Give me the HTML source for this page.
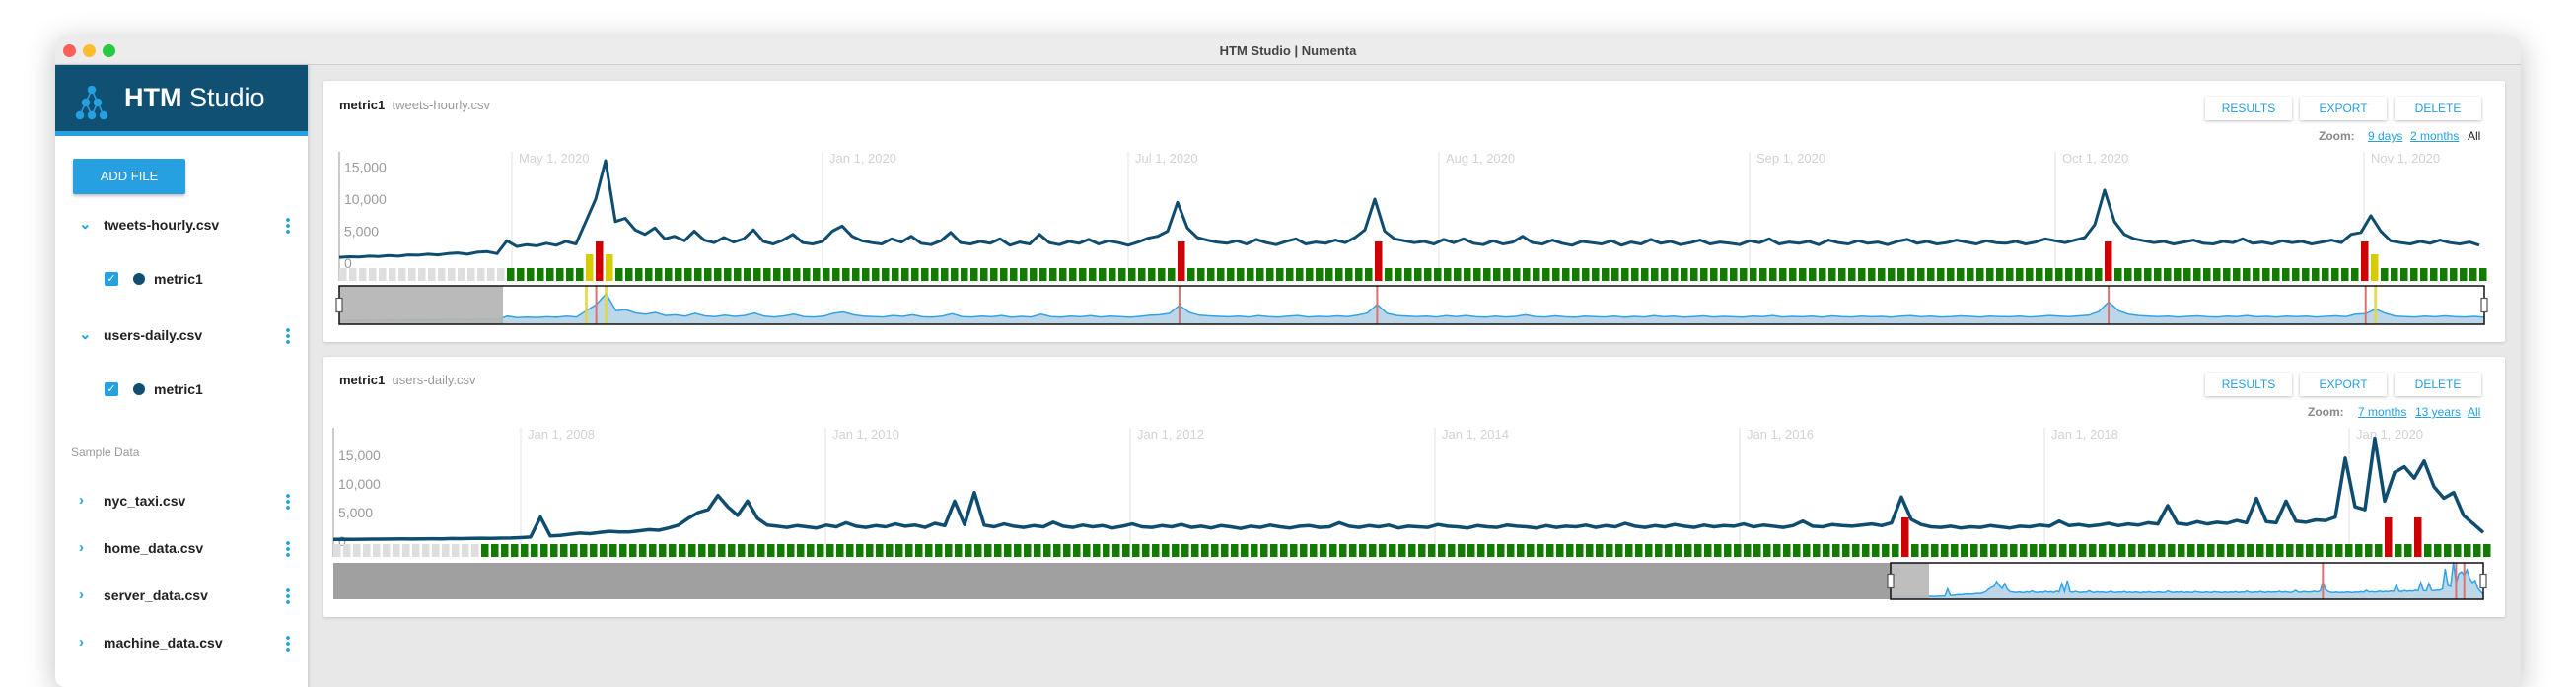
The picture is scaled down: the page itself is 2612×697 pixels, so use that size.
<!DOCTYPE html>
<html><head><meta charset="utf-8"><title>HTM Studio | Numenta</title>
<style>
*{box-sizing:border-box;margin:0;padding:0}
body{width:2612px;height:681px;overflow:hidden;background:#fff;font-family:"Liberation Sans",sans-serif;position:relative}
.abs{position:absolute}
#win{left:56px;top:37px;width:2500px;height:660px;border-radius:10px;background:#e8e8e8;box-shadow:0 6px 30px rgba(0,0,0,.25);overflow:hidden}
#titlebar{left:0;top:0;width:2500px;height:29px;background:#ececec;border-bottom:1px solid #cfcfcf;text-align:center;line-height:29px;font-size:13px;font-weight:bold;color:#444}
.dot{top:8px;width:13px;height:13px;border-radius:50%}
#sidebar{left:0;top:29px;width:256px;height:640px;background:#fff;box-shadow:1px 0 3px rgba(0,0,0,.15)}
#sbhead{left:0;top:0;width:256px;height:72px;background:#0f5073;border-bottom:5px solid #26a0e0}
.sbtext{font-size:14px;color:#222;font-weight:bold}
.kebab{width:4px;height:18px;background:radial-gradient(circle,#26a0e0 1.8px,transparent 2px) 0 0/4px 6px repeat-y}
.chev{color:#26a0e0;font-size:15px;font-weight:bold}
.panel{left:328px;width:2212px;background:#fff;box-shadow:0 1px 3px rgba(0,0,0,.15);border-radius:2px}
.btn{width:88px;height:24px;background:#fff;box-shadow:0 1px 3px rgba(0,0,0,.25);color:#26a0e0;font-size:12px;text-align:center;line-height:24px;border-radius:2px}
.lnk{color:#26a0e0;text-decoration:underline;font-size:12px}
.zl{font-size:12px;color:#888;font-weight:bold}
</style></head><body>
<div id="win" class="abs">
 <div id="titlebar" class="abs">HTM Studio | Numenta</div>
 <div class="abs dot" style="left:8px;background:#fe5f57"></div>
 <div class="abs dot" style="left:28px;background:#febc2e"></div>
 <div class="abs dot" style="left:48px;background:#28c840"></div>
 <div id="sidebar" class="abs">
  <div id="sbhead" class="abs">
   <svg class="abs" style="left:18px;top:21px" width="40" height="36">
    <g stroke="#26a0e0" stroke-width="1.5" fill="#26a0e0"><line x1="19" y1="4" x2="13" y2="17"/><line x1="19" y1="4" x2="25" y2="17"/><line x1="13" y1="17" x2="7" y2="30"/><line x1="13" y1="17" x2="19" y2="30"/><line x1="25" y1="17" x2="19" y2="30"/><line x1="25" y1="17" x2="31" y2="30"/>
    <circle cx="19" cy="4" r="3.5"/><circle cx="13" cy="17" r="3.5"/><circle cx="25" cy="17" r="3.5"/><circle cx="7" cy="30" r="3.5"/><circle cx="19" cy="30" r="3.5"/><circle cx="31" cy="30" r="3.5"/></g></svg>
   <div class="abs" style="left:70px;top:18px;font-size:27px;color:#fff;white-space:nowrap"><b>HTM</b> Studio</div>
  </div>
  <div class="abs" style="left:18px;top:95px;width:114px;height:36px;background:#26a0e0;color:#fff;font-size:13px;text-align:center;line-height:36px;box-shadow:0 2px 3px rgba(0,0,0,.25);border-radius:2px">ADD FILE</div>
  <div class="abs chev" style="left:24px;top:152px">&#8964;</div>
  <div class="abs sbtext" style="left:49px;top:154px">tweets-hourly.csv</div>
  <div class="abs kebab" style="left:234px;top:154px"></div>
  <div class="abs" style="left:50px;top:210px;width:14px;height:14px;background:#26a0e0;border-radius:2px;color:#fff;font-size:11px;text-align:center;line-height:14px">&#10003;</div>
  <div class="abs" style="left:79px;top:211px;width:12px;height:12px;border-radius:50%;background:#0f5073"></div>
  <div class="abs sbtext" style="left:100px;top:209px">metric1</div>
  <div class="abs chev" style="left:24px;top:264px">&#8964;</div>
  <div class="abs sbtext" style="left:49px;top:266px">users-daily.csv</div>
  <div class="abs kebab" style="left:234px;top:266px"></div>
  <div class="abs" style="left:50px;top:322px;width:14px;height:14px;background:#26a0e0;border-radius:2px;color:#fff;font-size:11px;text-align:center;line-height:14px">&#10003;</div>
  <div class="abs" style="left:79px;top:323px;width:12px;height:12px;border-radius:50%;background:#0f5073"></div>
  <div class="abs sbtext" style="left:100px;top:321px">metric1</div>
  <div class="abs" style="left:16px;top:386px;font-size:12px;color:#999">Sample Data</div>
  <div class="abs chev" style="left:24px;top:433px">&#8250;</div>
  <div class="abs sbtext" style="left:49px;top:434px">nyc_taxi.csv</div>
  <div class="abs kebab" style="left:234px;top:434px"></div>
  <div class="abs chev" style="left:24px;top:481px">&#8250;</div>
  <div class="abs sbtext" style="left:49px;top:482px">home_data.csv</div>
  <div class="abs kebab" style="left:234px;top:482px"></div>
  <div class="abs chev" style="left:24px;top:529px">&#8250;</div>
  <div class="abs sbtext" style="left:49px;top:530px">server_data.csv</div>
  <div class="abs kebab" style="left:234px;top:530px"></div>
  <div class="abs chev" style="left:24px;top:577px">&#8250;</div>
  <div class="abs sbtext" style="left:49px;top:578px">machine_data.csv</div>
  <div class="abs kebab" style="left:234px;top:578px"></div>
 </div>
</div>

<div class="abs panel" style="top:82px;height:265px"></div>
<div class="abs panel" style="top:362px;height:264px"></div>

<div class="abs" style="left:344px;top:99px;font-size:13px;white-space:nowrap"><b style="color:#222">metric1</b>&nbsp;&nbsp;<span style="color:#999">tweets-hourly.csv</span></div>
<div class="abs btn" style="left:2236px;top:98px">RESULTS</div>
<div class="abs btn" style="left:2332px;top:98px">EXPORT</div>
<div class="abs btn" style="left:2428px;top:98px">DELETE</div>
<div class="abs zl" style="left:2351px;top:131px">Zoom:</div>
<div class="abs lnk" style="left:2401px;top:131px">9 days</div>
<div class="abs lnk" style="left:2444px;top:131px">2 months</div>
<div class="abs" style="left:2502px;top:131px;font-size:12px;color:#222">All</div>

<div class="abs" style="left:344px;top:378px;font-size:13px;white-space:nowrap"><b style="color:#222">metric1</b>&nbsp;&nbsp;<span style="color:#999">users-daily.csv</span></div>
<div class="abs btn" style="left:2236px;top:378px">RESULTS</div>
<div class="abs btn" style="left:2332px;top:378px">EXPORT</div>
<div class="abs btn" style="left:2428px;top:378px">DELETE</div>
<div class="abs zl" style="left:2340px;top:411px">Zoom:</div>
<div class="abs lnk" style="left:2391px;top:411px">7 months</div>
<div class="abs lnk" style="left:2449px;top:411px">13 years</div>
<div class="abs lnk" style="left:2502px;top:411px">All</div>

<svg id="charts" class="abs" style="left:0;top:0" width="2612" height="681"></svg>

<script>
// ---- Chart 1: tweets-hourly ----
const tweetsValues = [900,1000,950,1100,1050,1200,1100,1300,1250,1400,
1300,1500,1600,1400,1700,1800,1500,3500,2600,2900,
2700,3100,2800,3400,3000,6500,10000,16000,6500,7000,
5200,4500,5500,3800,4200,3500,5000,3600,3200,4000,
3300,3800,5200,3400,3000,3600,4500,3200,3000,3400,
5000,5800,4200,3500,3200,3000,3800,3300,4200,3100,
2900,3500,4800,3200,3000,3400,3100,3800,2800,3300,
3000,4500,3200,2900,3400,3100,3700,3000,3500,3200,
2800,3300,3900,4200,5000,9500,5500,4000,3600,3300,
3100,3500,3000,3700,3200,2900,3400,3800,3000,3300,
3100,3600,3200,4000,5200,10000,5000,3800,3500,3200,
3400,3000,3700,3200,3800,3100,2900,3500,3000,3300,
4200,3200,3000,3600,3100,2800,3400,3200,3000,3500,
2800,3300,3000,3700,3100,3400,2900,3200,3600,3000,
3300,3100,2900,3500,3200,3800,3000,3300,3100,3400,
2900,3600,3200,3000,3500,3100,3300,2900,3400,3700,
3100,3400,3000,3200,3600,3300,3000,3500,3200,3100,
3400,3000,3300,3800,3500,3200,3600,4000,6000,11400,
6500,4500,3800,3500,3200,3400,3000,3300,3600,3100,
3000,3400,3200,3800,3100,3300,3000,3500,3200,3400,
3000,3300,3600,3200,4500,4800,7400,5000,3500,3200,
3000,3400,3100,3600,3200,3000,3300,2800];
const tweetsYTicks = [0,5000,10000,15000];
const tweetsYTickLabels = ["0","5,000","10,000","15,000"];
const tweetsXLabels = ["May 1, 2020","Jan 1, 2020","Jul 1, 2020","Aug 1, 2020","Sep 1, 2020","Oct 1, 2020","Nov 1, 2020"];
const tweetsXLabelIdx = [17.5,49,80,111.5,143,174,205.3];
const tweetsLearning = 17;
const tweetsRed = [26,85,105,179,205];
const tweetsYellow = [25,27,206];

// ---- Chart 2: users-daily ----
const usersValues = [300,320,310,330,350,340,360,380,370,400,
420,400,450,430,480,500,460,520,540,600,
700,4200,900,1000,1200,1400,1300,1500,1700,1600,
1600,1800,2000,1900,2300,
2800,4000,5000,5500,8000,6000,4500,7000,4000,2800,
2600,2400,2700,2500,2300,2800,2500,3200,2600,2400,
2700,2500,3000,2600,2800,2400,3100,2700,7000,2900,
8500,2800,2500,3000,2600,2400,2700,2500,3300,2600,
2400,2800,2500,2700,2300,2600,3000,2500,2400,2700,
2500,2900,2400,2600,2300,2700,2500,2200,2600,2400,
2800,2500,2300,2600,2700,2400,2500,3200,2600,2400,
2700,2500,2800,2300,2600,2500,2400,2900,2600,2500,
2300,2700,2500,2400,2800,2600,2500,2300,2700,2400,
2600,2500,2800,2400,2700,2500,3100,2600,2400,2700,
2500,2900,2600,2400,2800,2500,2700,2600,3000,2500,
2800,2600,2400,2700,3500,2600,2500,2900,2700,2600,
2800,3000,2700,3200,7700,3800,2900,2500,2400,2600,
2300,2500,2400,2700,2500,2300,2600,2500,2800,2600,
3500,2700,2900,2600,2800,3100,2700,3000,2800,3200,
3000,6200,3100,2900,3400,3000,3300,3100,3600,3200,
7500,3400,3200,7000,3500,3300,3700,3600,4200,
14500,6000,5500,18000,7000,12000,13000,11000,14000,9500,7500,8500,4500,3000,1500];
const usersYTicks = [0,5000,10000,15000];
const usersYTickLabels = ["0","5,000","10,000","15,000"];
const usersXLabels = ["Jan 1, 2008","Jan 1, 2010","Jan 1, 2012","Jan 1, 2014","Jan 1, 2016","Jan 1, 2018","Jan 1, 2020"];
const usersXLabelIdx = [19,49.9,80.8,111.7,142.6,173.5,204.4];
const usersLearning = 15;
const usersRed = [159,208,211];
const usersYellow = [];

const NS='http://www.w3.org/2000/svg';
const svg=document.getElementById('charts');
function mk(tag,attrs,parent){const e=document.createElementNS(NS,tag);for(const k in attrs)e.setAttribute(k,attrs[k]);(parent||svg).appendChild(e);return e;}

function drawChart(cfg){
  const g=mk('g',{});
  
  
  const n=cfg.values.length;
  const x=i=>cfg.left+i*cfg.pitch;
  const y=v=>cfg.zeroY-v*cfg.pxPer5k/5000;
  cfg.xLabels.forEach((lab,k)=>{
    const gx=x(cfg.xLabelIdx[k]);
    const l=mk('line',{x1:gx,x2:gx,y1:cfg.top,y2:cfg.barBottom,stroke:'#e2e2e2','stroke-width':1},g);
    
    
    const t=mk('text',{x:gx+7,y:cfg.top+11,fill:'#d2d2d2','font-size':13,'font-family':'Liberation Sans, sans-serif'},g);
    
    
    t.textContent=lab;
  });
  const ax=mk('line',{x1:cfg.left,x2:cfg.left,y1:cfg.top,y2:cfg.barBottom,stroke:'#999','stroke-width':1},g);
  
  
  cfg.yTicks.forEach((v,k)=>{
    const t=mk('text',{x:cfg.left+5,y:y(v)+5,fill:'#9a9a9a','font-size':14,'font-family':'Liberation Sans, sans-serif'},g);
    
    
    t.textContent=cfg.yTickLabels[k];
  });
  let d='';cfg.values.forEach((v,i)=>{d+=(i?'L':'M')+x(i).toFixed(1)+','+y(v).toFixed(1);});
  for(let i=0;i<n;i++){
    let col='#137b00',top=cfg.barTop;
    if(i<cfg.learning) col='#dedede';
    if(cfg.yellow.includes(i)){col='#d6cc00';top=cfg.barTop-cfg.yellowH;}
    if(cfg.red.includes(i)){col='#d10000';top=cfg.barTop-cfg.redH;}
    const r=mk('rect',{x:x(i),y:top,width:cfg.pitch*0.75,height:cfg.barBottom-top,fill:col},g);
    
    
  }
  const p=mk('path',{d:d,fill:'none',stroke:'#0f4d70','stroke-width':cfg.lineW,'stroke-linejoin':'round'},g);
  
  
  const nv=cfg.nav;
  const nx=i=>nv.x0+i*(nv.x1-nv.x0)/(n-1);
  const ny=v=>nv.base-v*nv.scale;
  if(nv.dark){const r=mk('rect',{x:cfg.left,y:nv.top,width:nv.x0-cfg.left,height:nv.bottom-nv.top,fill:'#a0a0a0'},g);
    
    }
  let a='M'+nx(0)+','+nv.bottom;cfg.values.forEach((v,i)=>{a+='L'+nx(i).toFixed(1)+','+ny(v).toFixed(1);});a+='L'+nx(n-1)+','+nv.bottom+'Z';
  const area=mk('path',{d:a,fill:'#bcd8e8',stroke:'none'},g);
  
  
  let l2='';cfg.values.forEach((v,i)=>{l2+=(i?'L':'M')+nx(i).toFixed(1)+','+ny(v).toFixed(1);});
  const nl=mk('path',{d:l2,fill:'none',stroke:'#33a2e4','stroke-width':1.5},g);
  
  
  cfg.yellow.forEach(i=>{const l=mk('line',{x1:nx(i),x2:nx(i),y1:nv.top,y2:nv.bottom,stroke:'#e0d840','stroke-width':3,opacity:.85},g);
    
    });
  cfg.red.forEach(i=>{const l=mk('line',{x1:nx(i),x2:nx(i),y1:nv.top,y2:nv.bottom,stroke:'#e07070','stroke-width':2},g);
    
    });
  const sh=mk('rect',{x:nv.x0,y:nv.top,width:nv.shadeW,height:nv.bottom-nv.top,fill:nv.shadeCol,opacity:.92},g);
  
  
  const box=mk('rect',{x:nv.x0,y:nv.top,width:nv.x1-nv.x0,height:nv.bottom-nv.top,fill:'none',stroke:'#111','stroke-width':1.5},g);
  
  
  [nv.x0,nv.x1].forEach(hx=>{const h=mk('rect',{x:hx-3,y:(nv.top+nv.bottom)/2-7,width:6,height:14,fill:'#fff',stroke:'#555','stroke-width':1.2},g);
    
    });
}

drawChart({name:'tweets',values:tweetsValues,left:344,pitch:10,top:154,zeroY:267,pxPer5k:32.5,barTop:272,barBottom:285,redH:27,yellowH:14,lineW:3,
  xLabels:tweetsXLabels,xLabelIdx:tweetsXLabelIdx,yTicks:tweetsYTicks,yTickLabels:tweetsYTickLabels,learning:tweetsLearning,red:tweetsRed,yellow:tweetsYellow,
  nav:{x0:344,x1:2519,top:290,bottom:329,base:327,scale:29/16000,shadeW:166,shadeCol:'#b4b4b4',dark:false}});
drawChart({name:'users',values:usersValues,left:338,pitch:10,top:434,zeroY:549,pxPer5k:29,barTop:552,barBottom:565,redH:27,yellowH:14,lineW:3.5,
  xLabels:usersXLabels,xLabelIdx:usersXLabelIdx,yTicks:usersYTicks,yTickLabels:usersYTickLabels,learning:usersLearning,red:usersRed,yellow:usersYellow,
  nav:{x0:1917,x1:2518,top:571,bottom:608,base:606,scale:0.002,shadeW:39,shadeCol:'#b8b8b8',dark:true}});
</script>
</body></html>
